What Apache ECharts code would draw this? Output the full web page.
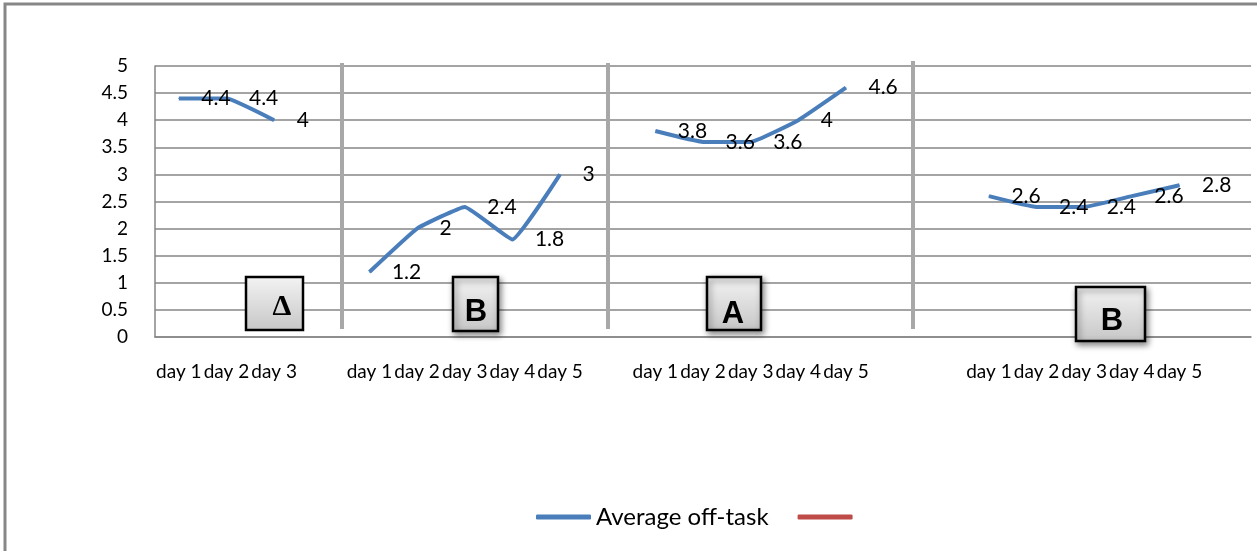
<!DOCTYPE html>
<html>
<head>
<meta charset="utf-8">
<script src="https://cdn.jsdelivr.net/npm/echarts@6/dist/echarts.min.js"></script>
<style>
html,body{margin:0;padding:0;background:#fff;}
#c{width:1257px;height:551px;}
</style>
</head>
<body>
<div id="c"></div>
<script>
// ---- data ----
var categories = ['day 1','day 2','day 3','',
  'day 1','day 2','day 3','day 4','day 5','',
  'day 1','day 2','day 3','day 4','day 5','','',
  'day 1','day 2','day 3','day 4','day 5',''];
var phaseA1 = [4.4, 4.4, 4.0];
var phaseB1 = [1.2, 2.0, 2.4, 1.8, 3.0];
var phaseA2 = [3.8, 3.6, 3.6, 4.0, 4.6];
var phaseB2 = [2.6, 2.4, 2.4, 2.6, 2.8];
var yTicks = {min: 0, max: 5, interval: 0.5};
var seriesName = 'Average off-task';
var phaseLabels = ['Δ', 'B', 'A', 'B'];

var offTask = [].concat(phaseA1, [null], phaseB1, [null], phaseA2, [null, null], phaseB2, [null]);

var chart = echarts.init(document.getElementById('c'));
var FONT = 'Lato, "Liberation Sans", sans-serif';

function box(x, y, w, h, label, tx, ty, fontSize, fontFamily, shadow) {
  return [{
    type: 'rect',
    shape: {x: x, y: y, width: w, height: h},
    style: {
      fill: new echarts.graphic.LinearGradient(0, 0, 0, 1, [
        {offset: 0, color: '#f4f4f4'}, {offset: 1, color: '#c6c6c6'}]),
      stroke: '#000', lineWidth: 2.5,
      shadowBlur: shadow ? 6 : 0, shadowOffsetX: shadow ? 2 : 0, shadowOffsetY: shadow ? 3 : 0,
      shadowColor: 'rgba(0,0,0,0.45)'
    },
    z: 100
  }, {
    type: 'text',
    x: tx, y: ty,
    style: {text: label, font: 'bold ' + fontSize + 'px ' + fontFamily, fill: '#000',
      textAlign: 'center', textVerticalAlign: 'bottom'},
    z: 101
  }];
}

var graphics = [
  {type: 'polyline', shape: {points: [[5, 551], [5, 4], [1257, 4]]},
   style: {stroke: '#878787', lineWidth: 3, fill: null}, z: 1},
  {type: 'line', shape: {x1: 342, y1: 63, x2: 342, y2: 329}, style: {stroke: '#a8a8a8', lineWidth: 4}, z: 90},
  {type: 'line', shape: {x1: 608, y1: 63, x2: 608, y2: 329}, style: {stroke: '#a8a8a8', lineWidth: 4}, z: 90},
  {type: 'line', shape: {x1: 913, y1: 61, x2: 913, y2: 329}, style: {stroke: '#a8a8a8', lineWidth: 4}, z: 90}
].concat(
  box(246, 277, 57, 53, phaseLabels[0], 282, 322, 30, '"Liberation Serif", serif', false),
  box(453, 277, 45, 54, phaseLabels[1], 476, 328, 31, '"Liberation Sans", Arial, sans-serif', true),
  box(707, 277, 54, 53, phaseLabels[2], 733, 330, 31, '"Liberation Sans", Arial, sans-serif', true),
  box(1076, 287, 69, 54, phaseLabels[3], 1112, 337, 31, '"Liberation Sans", Arial, sans-serif', true)
);

chart.setOption({
  animation: false,
  backgroundColor: '#fff',
  grid: {left: 155, top: 66, right: 6, bottom: 214, containLabel: false},
  legend: {
    left: 531, top: 500,
    itemWidth: 55, itemHeight: 5, itemGap: 29,
    icon: 'roundRect',
    textStyle: {fontFamily: FONT, fontSize: 24, color: '#000'},
    data: [seriesName, ' ']
  },
  xAxis: {
    type: 'category',
    data: categories,
    boundaryGap: true,
    axisLine: {show: true, lineStyle: {color: '#868686', width: 1.5}},
    axisTick: {show: false},
    axisLabel: {interval: 0, fontFamily: FONT, fontSize: 19, color: '#000', margin: 25, hideOverlap: false}
  },
  yAxis: {
    type: 'value',
    min: yTicks.min, max: yTicks.max, interval: yTicks.interval,
    axisLine: {show: true, lineStyle: {color: '#868686', width: 1.5}},
    axisTick: {show: false},
    axisLabel: {fontFamily: FONT, fontSize: 19, color: '#000', margin: 27},
    splitLine: {show: true, lineStyle: {color: '#868686', width: 1.5}}
  },
  series: [{
    name: seriesName,
    type: 'line',
    data: offTask,
    connectNulls: false,
    smooth: 0.1,
    showSymbol: true,
    symbol: 'circle',
    symbolSize: 1,
    lineStyle: {color: '#4a7ebb', width: 4},
    itemStyle: {color: '#4a7ebb'},
    label: {show: true, position: 'right', distance: 22, offset: [0, 4],
      fontFamily: FONT, fontSize: 21, color: '#000'},
    labelLayout: {hideOverlap: false},
    z: 5
  }, {
    name: ' ',
    type: 'line',
    data: [],
    lineStyle: {color: '#be4b48', width: 4},
    itemStyle: {color: '#be4b48'}
  }],
  graphic: graphics
});
</script>
</body>
</html>
